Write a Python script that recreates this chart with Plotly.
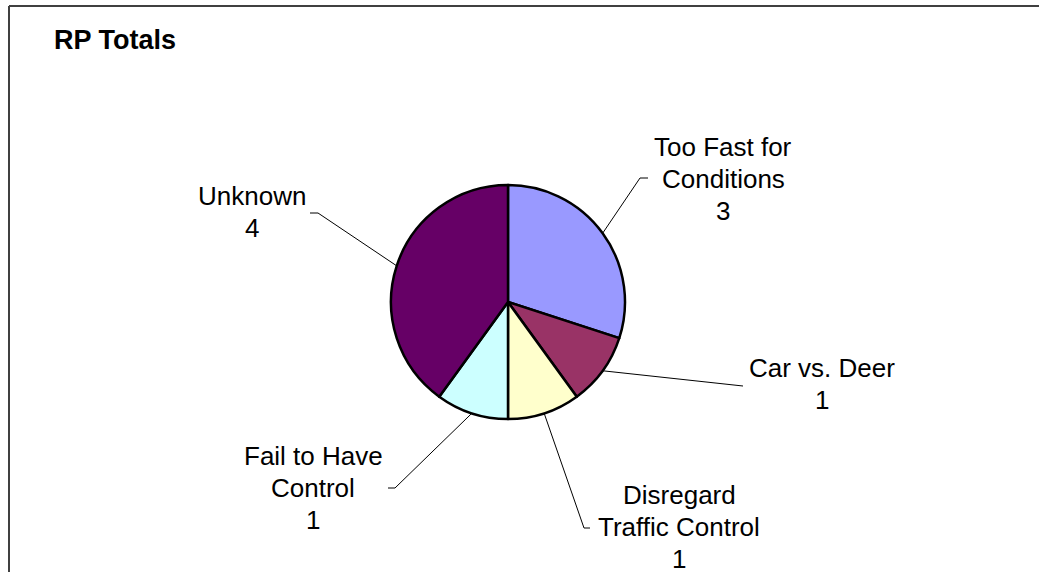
import math
import plotly.graph_objects as go

# ---- data ----
categories = ["Too Fast for Conditions", "Car vs. Deer", "Disregard Traffic Control",
              "Fail to Have Control", "Unknown"]
label_lines = [["Too Fast for", "Conditions"], ["Car vs. Deer"], ["Disregard", "Traffic Control"],
               ["Fail to Have", "Control"], ["Unknown"]]
values = [3, 1, 1, 1, 4]
colors = ["#9999FF", "#993366", "#FFFFCC", "#CCFFFF", "#660066"]

# ---- layout (pixels in the target picture) ----
W, H = 1039, 572
cx, cy, R = 508, 302, 117
# label block centres and leader elbow points (layout only)
label_pos = [(723, 179), (822, 384), (679, 527), (313, 488), (252, 212)]
elbows = [((640, 178), (648, 178)),
          ((743, 386), (743, 386)),
          ((584, 528), (590, 528)),
          ((395, 488), (388, 488)),
          ((318, 213), (310, 213))]
LINE_H = 32

FONT = "Liberation Sans, Arial, sans-serif"


def px(x, y):
    return x / W, 1 - y / H


fig = go.Figure()
dx0, _ = px(cx - R, 0)
dx1, _ = px(cx + R, 0)
_, dy0 = px(0, cy + R)
_, dy1 = px(0, cy - R)
fig.add_trace(go.Pie(
    labels=categories,
    values=values,
    sort=False,
    direction="clockwise",
    rotation=0,
    marker=dict(colors=colors, line=dict(color="black", width=2.5)),
    textinfo="none",
    hoverinfo="label+value",
    showlegend=False,
    domain=dict(x=[dx0, dx1], y=[dy0, dy1]),
))

shapes = []
# chart frame (top and left edges)
fx, fy = px(9, 6)
shapes.append(dict(type="line", xref="paper", yref="paper",
                   x0=fx, y0=fy, x1=1.0, y1=fy,
                   line=dict(color="#404040", width=2)))
shapes.append(dict(type="line", xref="paper", yref="paper",
                   x0=fx, y0=fy, x1=fx, y1=0,
                   line=dict(color="#404040", width=2)))

annotations = []
total = sum(values)
cum = 0
for i, v in enumerate(values):
    theta = 2 * math.pi * (cum + v / 2) / total
    cum += v
    ex = cx + R * math.sin(theta)
    ey = cy - R * math.cos(theta)
    (e1x, e1y), (e2x, e2y) = elbows[i]
    x0, y0 = px(ex, ey)
    x1, y1 = px(e1x, e1y)
    x2, y2 = px(e2x, e2y)
    shapes.append(dict(type="line", xref="paper", yref="paper",
                       x0=x0, y0=y0, x1=x1, y1=y1,
                       line=dict(color="black", width=1)))
    if (e1x, e1y) != (e2x, e2y):
        shapes.append(dict(type="line", xref="paper", yref="paper",
                           x0=x1, y0=y1, x1=x2, y1=y2,
                           line=dict(color="black", width=1)))
    lines = label_lines[i] + [str(v)]
    n = len(lines)
    lcx, lcy = label_pos[i]
    for k, t in enumerate(lines):
        yy = lcy + (k - (n - 1) / 2) * LINE_H
        ax_, ay_ = px(lcx, yy)
        annotations.append(dict(
            x=ax_, y=ay_, xref="paper", yref="paper",
            text=t, showarrow=False, align="center",
            xanchor="center", yanchor="middle",
            font=dict(family=FONT, size=26, color="black"),
        ))

# title
tx, ty = px(52, 40)
annotations.append(dict(
    x=tx, y=ty, xref="paper", yref="paper",
    text="<b>RP Totals</b>", showarrow=False,
    xanchor="left", yanchor="middle",
    font=dict(family=FONT, size=27, color="black"),
))

fig.update_layout(
    width=W, height=H,
    margin=dict(l=0, r=0, t=0, b=0),
    paper_bgcolor="white",
    plot_bgcolor="white",
    shapes=shapes,
    annotations=annotations,
)

fig.write_html("out.html",
               config={"displayModeBar": False},
               post_script="document.body.style.margin='0';document.body.style.overflow='hidden';")
